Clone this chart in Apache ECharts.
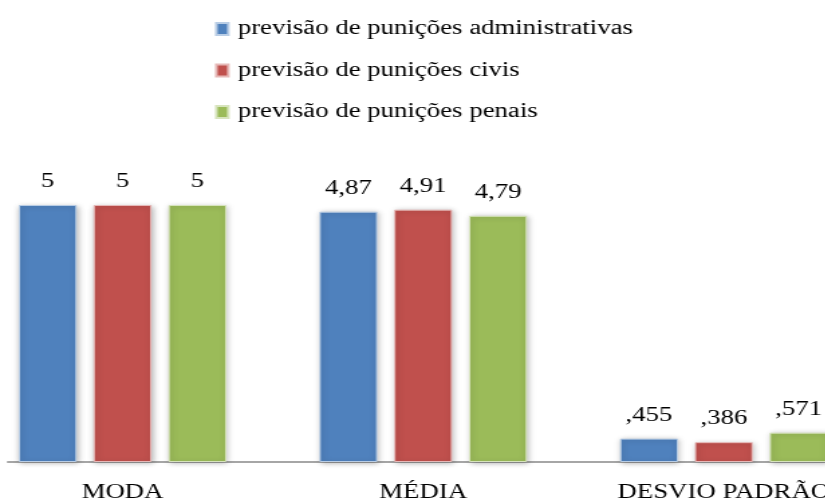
<!DOCTYPE html>
<html>
<head>
<meta charset="utf-8">
<script src="https://cdn.jsdelivr.net/npm/echarts@6/dist/echarts.min.js"></script>
<style>
  html, body { margin: 0; padding: 0; background: #fff; overflow: hidden; }
  #wrap { width: 825px; height: 501px; overflow: hidden; }
  /* the figure is drawn narrow and widened horizontally */
  #chart { height: 501px; transform-origin: 0 0; }
</style>
</head>
<body>
<div id="wrap"><div id="chart"></div></div>
<script>
// Estatísticas descritivas das previsões de punição
var categories = ['MODA', 'MÉDIA', 'DESVIO PADRÃO'];
var seriesNames = [
  'previsão de punições administrativas',
  'previsão de punições civis',
  'previsão de punições penais'
];
var administrativas = [5, 4.87, 0.455];
var civis = [5, 4.91, 0.386];
var penais = [5, 4.79, 0.571];

var STRETCH = 1.34;
var el = document.getElementById('chart');
el.style.width = (825 / STRETCH) + 'px';
el.style.transform = 'scaleX(' + STRETCH + ')';

var colors = ['#4F81BD', '#C0504D', '#9BBB59'];
var borders = ['#B9CDE5', '#E6B9B8', '#D7E4BD'];
var serif = '"Liberation Serif", "DejaVu Serif", serif';

// 5 -> "5", 4.87 -> "4,87", 0.455 -> ",455"
function fmt(v) {
  return String(v).replace('.', ',').replace(/^0,/, ',');
}

function makeSeries(name, values, i) {
  return {
    name: name,
    type: 'bar',
    data: values.map(function (v, k) { return [k, v]; }),
    barWidth: 58 / STRETCH,
    barGap: '29%',
    itemStyle: {
      color: colors[i],
      borderColor: borders[i],
      borderWidth: 1,
      shadowColor: 'rgba(0,0,0,0.28)',
      shadowBlur: 5,
      shadowOffsetX: 1,
      shadowOffsetY: 1
    },
    label: {
      show: true,
      position: 'top',
      distance: 13,
      color: '#000',
      fontFamily: serif,
      fontSize: 20,
      formatter: function (p) { return fmt(p.value[1]); }
    }
  };
}

var chart = echarts.init(el, null, { renderer: 'canvas' });
chart.setOption({
  animation: false,
  backgroundColor: '#fff',
  color: colors,
  legend: {
    orient: 'vertical',
    left: 215 / STRETCH,
    top: 19,
    padding: 0,
    itemWidth: 12 / STRETCH,
    itemHeight: 12,
    itemGap: 21.5,
    icon: 'rect',
    textStyle: { fontFamily: serif, fontSize: 20, color: '#000', padding: [0, 0, 0, 2] },
    data: seriesNames
  },
  grid: {
    left: 8 / STRETCH,
    right: 0,
    top: 205,
    height: 257,
    containLabel: false,
    outerBoundsMode: 'none'
  },
  xAxis: {
    type: 'value',
    min: -0.381,
    max: 2.338,
    splitLine: { show: false },
    axisLine: { lineStyle: { color: '#A6A6A6', width: 2 } },
    axisTick: { show: false },
    axisLabel: {
      customValues: [0, 1, 2],
      margin: 21,
      color: '#000',
      fontFamily: serif,
      fontSize: 20,
      formatter: function (v) { return categories[Math.round(v)]; }
    }
  },
  yAxis: {
    type: 'value',
    min: 0,
    max: 5,
    show: false,
    splitLine: { show: false }
  },
  series: [
    makeSeries(seriesNames[0], administrativas, 0),
    makeSeries(seriesNames[1], civis, 1),
    makeSeries(seriesNames[2], penais, 2)
  ]
});
</script>
</body>
</html>
